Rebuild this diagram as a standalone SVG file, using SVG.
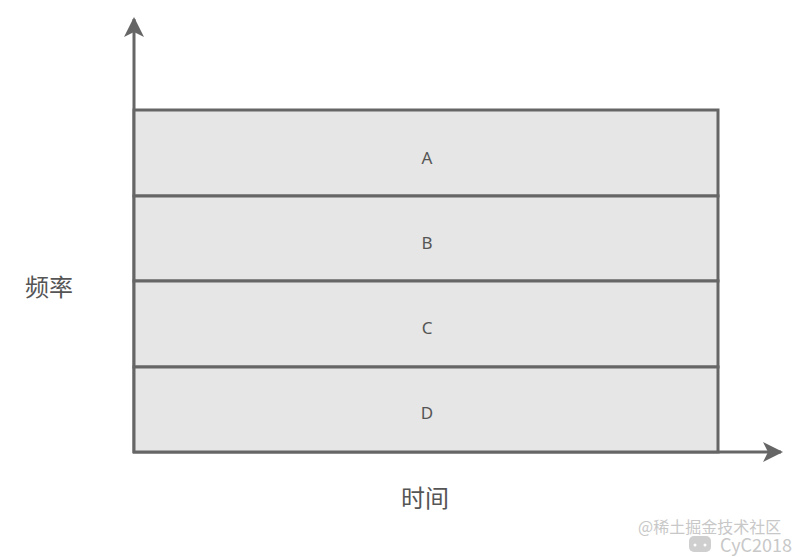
<svg xmlns="http://www.w3.org/2000/svg" width="806" height="557" viewBox="0 0 806 557">
<style>
.band{fill:#e6e6e6;stroke:#666666;stroke-width:3}
.lbl{font-family:"Noto Sans","Open Sans","Liberation Sans",sans-serif;font-size:17px;fill:#555555;text-anchor:middle}
.axl{font-family:"Noto Sans CJK SC","Noto Sans",sans-serif;font-size:24px;fill:#555555}
.axis{stroke:#666666;stroke-width:3;fill:none}
.wm{font-family:"Noto Sans CJK SC","Liberation Sans",sans-serif;fill:#c8c8c8}
</style>
<defs>
<marker id="ah" viewBox="0 0 20 20" refX="18" refY="10" markerWidth="20" markerHeight="20" markerUnits="userSpaceOnUse" orient="auto">
<path d="M0,0 L20,10 L0,20 L5,10 Z" fill="#666666"/>
</marker>
</defs>
<g id="connectors">
<line class="axis" x1="134" y1="453" x2="134" y2="19" marker-end="url(#ah)"/>
<line class="axis" x1="133" y1="452" x2="781" y2="452" marker-end="url(#ah)"/>
</g>
<g id="A"><rect class="band" x="134" y="110" width="584" height="86"/><text class="lbl" x="427" y="164">A</text></g>
<g id="B"><rect class="band" x="134" y="196" width="584" height="85"/><text class="lbl" x="427" y="249">B</text></g>
<g id="C"><rect class="band" x="134" y="281" width="584" height="86"/><text class="lbl" x="427" y="334">C</text></g>
<g id="D"><rect class="band" x="134" y="367" width="584" height="85"/><text class="lbl" x="427" y="419">D</text></g>
<g id="ylabel"><text class="axl" x="25" y="296">频率</text></g>
<g id="xlabel"><text class="axl" x="401" y="507">时间</text></g>
<g id="watermark">
<text class="wm" x="638" y="533" font-size="16">@稀土掘金技术社区</text>
<rect x="689" y="536" width="22" height="16" rx="5" fill="#cfcfcf"/>
<circle cx="695" cy="545" r="1.5" fill="#fff"/><circle cx="705" cy="545" r="1.5" fill="#fff"/>
<text class="wm" x="720" y="552" font-size="18">CyC2018</text>
</g>
</svg>
